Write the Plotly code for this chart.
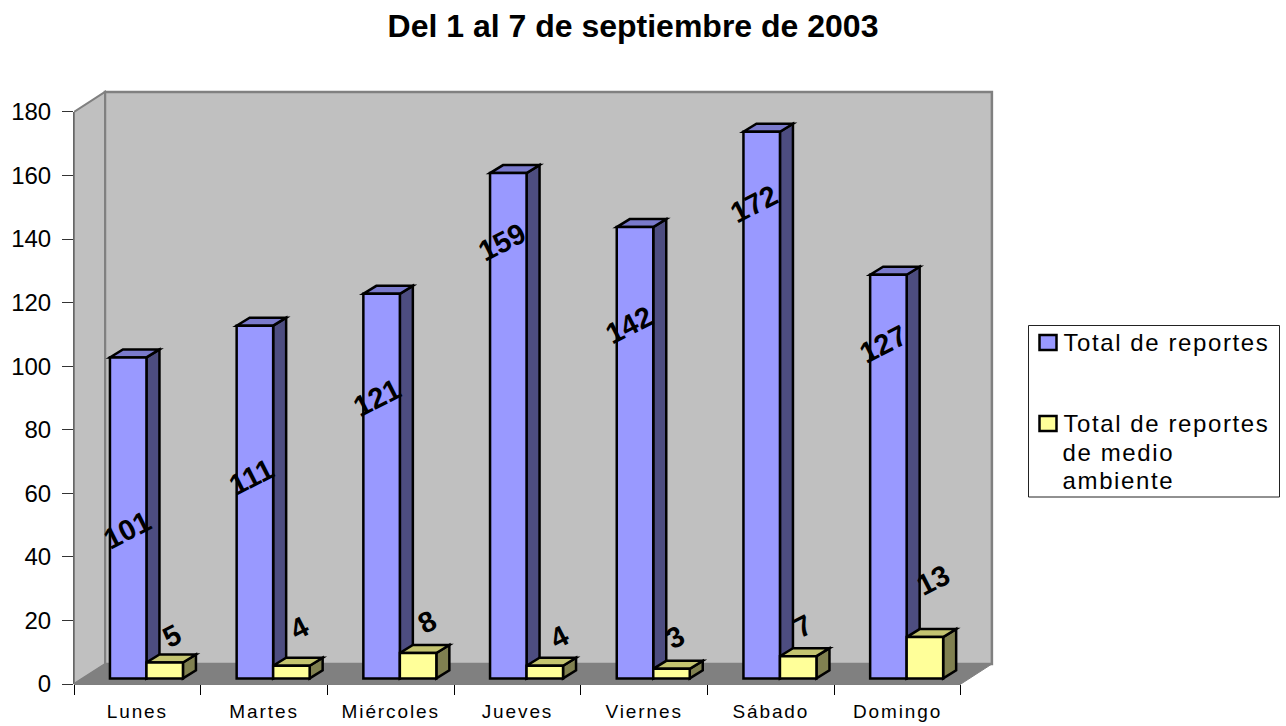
import plotly.graph_objects as go

# ---- data -------------------------------------------------------------
days = ["Lunes", "Martes", "Miércoles", "Jueves", "Viernes", "Sábado", "Domingo"]
total_reportes = [101, 111, 121, 159, 142, 172, 127]
total_medio_ambiente = [5, 4, 8, 4, 3, 7, 13]
title_text = "Del 1 al 7 de septiembre de 2003"
legend_lines = [["Total de reportes"], ["Total de reportes", "de medio", "ambiente"]]

# label anchors (value height, shift in categories)
total_label_height = [48.5, 65, 90, 139, 113, 151, 107]
total_label_shift = [-0.008, -0.028, -0.04, -0.047, -0.047, -0.06, -0.04]
medio_label_height = [15, 17.6, 19.5, 14.8, 14.8, 18.2, 32.7]
medio_label_shift = [0.055, 0.06, 0.07, 0.11, 0.03, 0.04, 0.065]

# ---- geometry ---------------------------------------------------------
W, H = 1286, 726
L, R, T, B = 74, 285, 88, 42
PX_PER_CAT = 126.7
PX_PER_VAL = 3.178
plot_w, plot_h = W - L - R, H - T - B
x_range = [-0.5, -0.5 + plot_w / PX_PER_CAT]
y_range = [0, plot_h / PX_PER_VAL]
DEPTH_X = 31 / PX_PER_CAT
DEPTH_Y = 20 / PX_PER_VAL
BAR_DX = 13 / PX_PER_CAT
BAR_DY = 8 / PX_PER_VAL
FLOOR = 5.6 / PX_PER_VAL
BAR_W = 36.5 / PX_PER_CAT
OFF_A = -27.4 / PX_PER_CAT
OFF_B = OFF_A + BAR_W
YMAX = 180
N = len(days)
LEGEND_SPACING = 1.6

BLUE, BLUE_SIDE, BLUE_TOP = "#9999FF", "#4D4D80", "#7A7ACC"
YEL, YEL_SIDE, YEL_TOP = "#FFFF99", "#808050", "#C4C470"
FONT = "Liberation Sans"


def poly(pts, fill, line="black", lw=2.5):
    path = "M " + " L ".join(f"{x:.4f},{y:.4f}" for x, y in pts) + " Z"
    return dict(type="path", xref="x", yref="y", path=path, fillcolor=fill,
                line=dict(color=line, width=lw), layer="below")


def seg(x0, y0, x1, y1, color="#808080", lw=2, xref="x", yref="y"):
    return dict(type="line", xref=xref, yref=yref, x0=x0, y0=y0, x1=x1, y1=y1,
                line=dict(color=color, width=lw), layer="below")


xl, xr = x_range[0], -0.5 + N
shapes = [
    # back wall, side wall, floor
    poly([(xl + DEPTH_X, DEPTH_Y), (xr + DEPTH_X, DEPTH_Y), (xr + DEPTH_X, YMAX + DEPTH_Y),
          (xl + DEPTH_X, YMAX + DEPTH_Y)], "#C0C0C0", "#808080", 2.5),
    poly([(xl, 0), (xl + DEPTH_X, DEPTH_Y), (xl + DEPTH_X, YMAX + DEPTH_Y), (xl, YMAX)],
         "#C0C0C0", "#808080", 2),
    poly([(xl, 0), (xr, 0), (xr + DEPTH_X, DEPTH_Y), (xl + DEPTH_X, DEPTH_Y)],
         "#808080", "#808080", 1),
    # axis lines
    seg(0, 0, 0, YMAX, "#333333", 1.5, xref="paper"),
    seg(xl, 0, xr, 0, "black", 1.2, yref="paper"),
]


def box_faces(values, off, side, top):
    out = []
    for i, v in enumerate(values):
        x0, x1 = i + off, i + off + BAR_W
        y0, y1 = FLOOR, FLOOR + v
        out.append(poly([(x1, y0), (x1 + BAR_DX, y0 + BAR_DY), (x1 + BAR_DX, y1 + BAR_DY), (x1, y1)], side))
        out.append(poly([(x0, y1), (x1, y1), (x1 + BAR_DX, y1 + BAR_DY), (x0 + BAR_DX, y1 + BAR_DY)], top))
    return out


shapes += box_faces(total_reportes, OFF_A, BLUE_SIDE, BLUE_TOP)
shapes += box_faces(total_medio_ambiente, OFF_B, YEL_SIDE, YEL_TOP)

fig = go.Figure()
fig.add_bar(x=days, y=total_reportes, base=FLOOR, offset=OFF_A, width=BAR_W, name="Total de reportes",
            marker=dict(color=BLUE, line=dict(color="black", width=2.5)))
fig.add_bar(x=days, y=total_medio_ambiente, base=FLOOR, offset=OFF_B, width=BAR_W,
            name="Total de reportes de medio ambiente",
            marker=dict(color=YEL, line=dict(color="black", width=2.5)))

annotations = []
label_font = dict(family=FONT, size=29, color="black", weight="bold")
for i in range(N):
    annotations.append(dict(x=i + OFF_A + BAR_W / 2 + total_label_shift[i], y=total_label_height[i],
                            xref="x", yref="y", text=str(total_reportes[i]), showarrow=False, textangle=-27,
                            font=label_font))
    annotations.append(dict(x=i + OFF_B + BAR_W / 2 + medio_label_shift[i], y=medio_label_height[i],
                            xref="x", yref="y", text=str(total_medio_ambiente[i]), showarrow=False, textangle=-27,
                            font=label_font))


# ---- legend (hand laid out: the original has larger swatches and tight lines)
def paper_x(px):
    return (px - L) / plot_w


def paper_y(px):
    return 1 - (px - T) / plot_h


shapes.append(dict(type="rect", xref="paper", yref="paper", x0=paper_x(1028.5), x1=paper_x(1279.5),
                   y0=paper_y(325.5), y1=paper_y(497), line=dict(color="#222222", width=1), fillcolor="white"))
for group, swatch_y, color in zip(legend_lines, (342.5, 423.5), (BLUE, YEL)):
    shapes.append(dict(type="rect", xref="paper", yref="paper", x0=paper_x(1039.5), x1=paper_x(1056.5),
                       y0=paper_y(swatch_y - 7.5), y1=paper_y(swatch_y + 7.5),
                       line=dict(color="black", width=2.5), fillcolor=color))
    for k, line in enumerate(group):
        annotations.append(dict(x=paper_x(1061), y=paper_y(swatch_y + k * 28.6), xref="paper", yref="paper",
                                text=line, showarrow=False, xanchor="left", yanchor="middle",
                                xshift=len(line) * LEGEND_SPACING / 2,
                                font=dict(family=FONT, size=24, color="black")))

fig.update_layout(
    width=W, height=H, autosize=False, barmode="overlay", showlegend=False,
    paper_bgcolor="white", plot_bgcolor="white",
    margin=dict(l=L, r=R, t=T, b=B, autoexpand=False),
    font=dict(family=FONT, color="black"),
    title=dict(text=title_text, x=633 / W, xref="container", xanchor="center", y=1 - 26 / H, yanchor="middle",
               font=dict(family=FONT, size=32, color="black", weight="bold")),
    xaxis=dict(type="category", categoryorder="array", categoryarray=days, tickson="boundaries",
               range=x_range, ticks="outside", ticklen=10, tickwidth=1, tickcolor="black", ticklabelstandoff=14,
               showline=False, showgrid=False, zeroline=False, tickfont=dict(size=19, family=FONT)),
    yaxis=dict(range=y_range, tick0=0, dtick=20, ticks="outside", ticklen=11, tickwidth=1, tickcolor="#333333",
               ticklabelstandoff=6,
               showline=False, showgrid=False, zeroline=False, tickfont=dict(size=24, family=FONT)),
    shapes=shapes, annotations=annotations,
)

post = """
document.body.style.margin = '0';
document.documentElement.style.overflow = 'hidden';
var st = document.createElement('style');
st.textContent = '.xtick text{letter-spacing:1.9px}';
document.head.appendChild(st);
document.querySelectorAll('.annotation-text').forEach(function (t) {
  if (/[a-z]/.test(t.textContent)) { t.style.letterSpacing = '%spx'; }
});
""" % LEGEND_SPACING
fig.write_html("out.html", post_script=post, config=dict(displayModeBar=False))
